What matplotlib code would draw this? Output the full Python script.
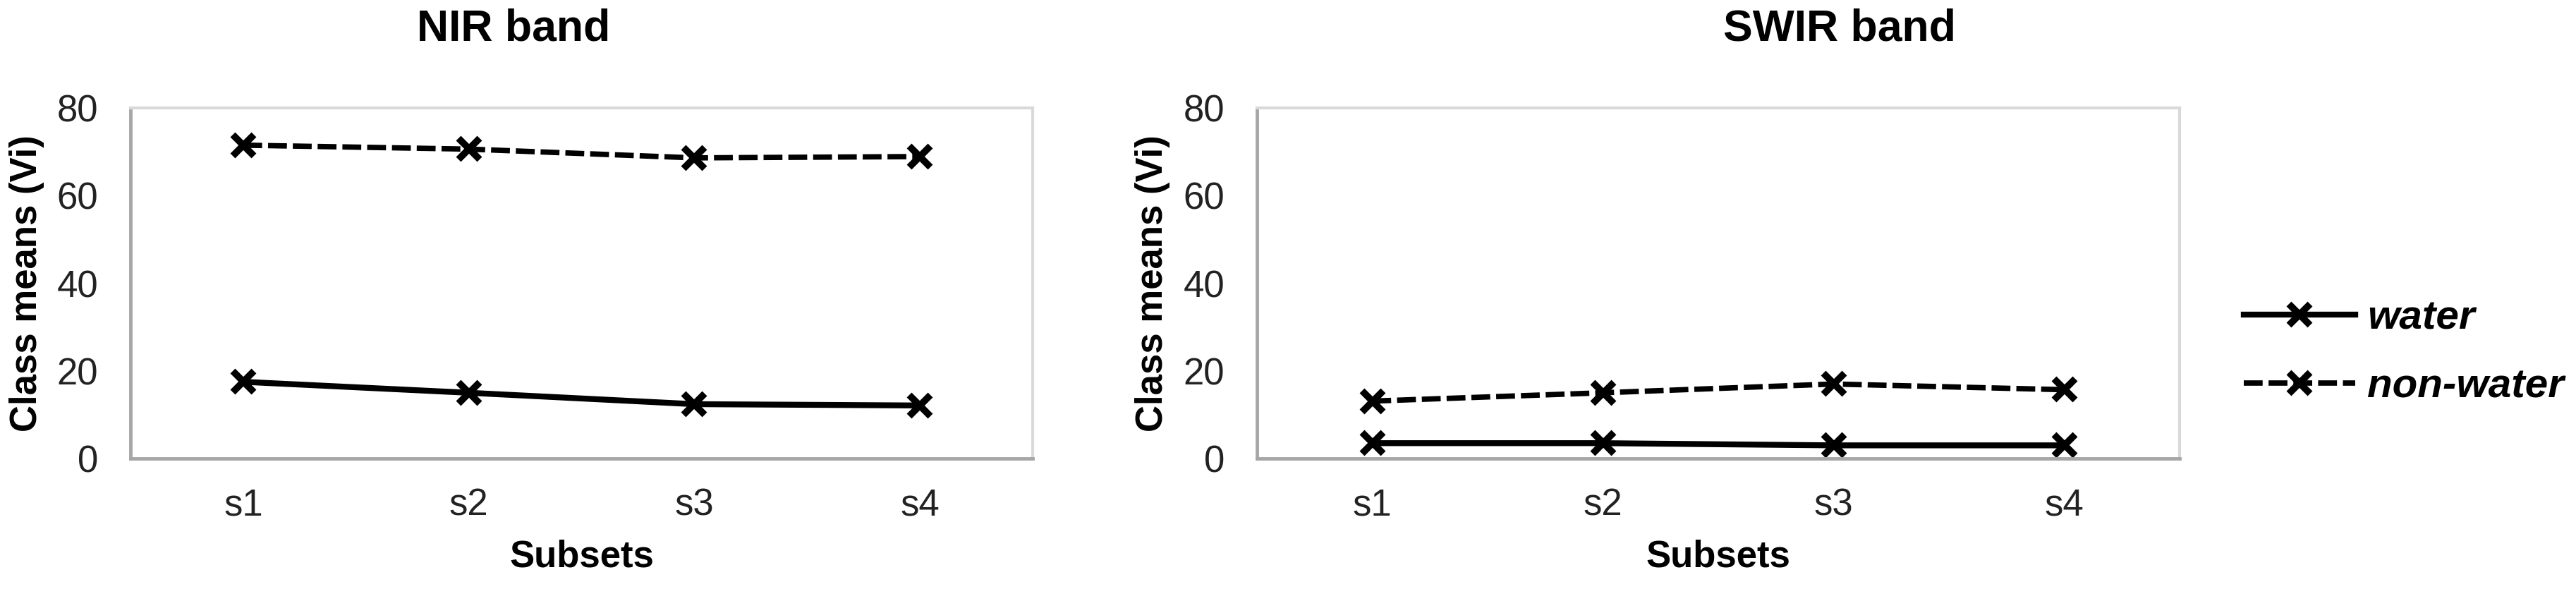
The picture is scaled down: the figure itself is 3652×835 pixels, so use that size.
"""
Class means per subset for the NIR and SWIR bands, water vs non-water.
"""

from matplotlib import pyplot as plt

plt.rcParams["font.family"] = ["Liberation Sans", "DejaVu Sans"]

subsets = ["s1", "s2", "s3", "s4"]
nir_water = [17.5, 15.0, 12.4, 12.1]
nir_non_water = [71.5, 70.6, 68.6, 68.9]
swir_water = [3.5, 3.5, 3.0, 3.0]
swir_non_water = [13.1, 15.0, 17.0, 15.7]
y_ticks = [0, 20, 40, 60, 80]

W, H, DPI = 3652, 835, 100
fig = plt.figure(figsize=(W / DPI, H / DPI), dpi=DPI)


def px_axes(x0, x1, y0, y1):
    """Axes from pixel box (top-left origin)."""
    return fig.add_axes([x0 / W, 1 - y1 / H, (x1 - x0) / W, (y1 - y0) / H])


def style_panel(ax, water, non_water):
    """Draw both series and dress the panel like the original."""
    x = range(len(subsets))
    ax.plot(x, water, color="black", lw=6, marker="x", ms=22, mew=7,
            label="water")
    ax.plot(x, non_water, color="black", lw=5.5, ls=(0, (3.5, 1.1)),
            marker="x", ms=22, mew=7, label="non-water")
    ax.set_xlim(-0.5, len(subsets) - 0.5)
    ax.set_ylim(0, 80)
    ax.set_yticks(y_ticks)
    ax.set_xticks(list(x))
    ax.set_xticklabels(subsets)
    ax.tick_params(length=0, labelsize=38, colors="#222222")
    ax.tick_params(axis="x", pad=30)
    ax.tick_params(axis="y", pad=33)
    for side in ("top", "right"):
        ax.spines[side].set_color("#d9d9d9")
        ax.spines[side].set_linewidth(3)
    for side in ("left", "bottom"):
        ax.spines[side].set_color("#a6a6a6")
        ax.spines[side].set_linewidth(3.5)
    ax.set_xlabel("Subsets", fontsize=38, fontweight="bold")
    ax.xaxis.set_label_coords(0.5, -0.23)
    ax.set_ylabel("Class means (Vi)", fontsize=38, fontweight="bold")


ax1 = px_axes(185, 1464, 153, 650)
style_panel(ax1, nir_water, nir_non_water)
ax1.yaxis.set_label_coords(-0.095, 0.5)

ax2 = px_axes(1782, 3090, 153, 650)
style_panel(ax2, swir_water, swir_non_water)
ax2.yaxis.set_label_coords(-0.094, 0.5)

fig.text(728 / W, 1 - 41 / H, "NIR band", fontsize=45, fontweight="bold",
         ha="center", va="center")
fig.text(2608 / W, 1 - 41 / H, "SWIR band", fontsize=45, fontweight="bold",
         ha="center", va="center")

ax2.legend(
    loc="center left",
    bbox_to_anchor=(3181 / W, 1 - 500 / H),
    bbox_transform=fig.transFigure,
    frameon=False,
    borderpad=0,
    borderaxespad=0,
    handlelength=2.7,
    handletextpad=0.3,
    labelspacing=0.75,
    prop={"size": 42, "weight": "bold", "style": "italic"},
)

fig.savefig("out.png", dpi=DPI, facecolor="white")
